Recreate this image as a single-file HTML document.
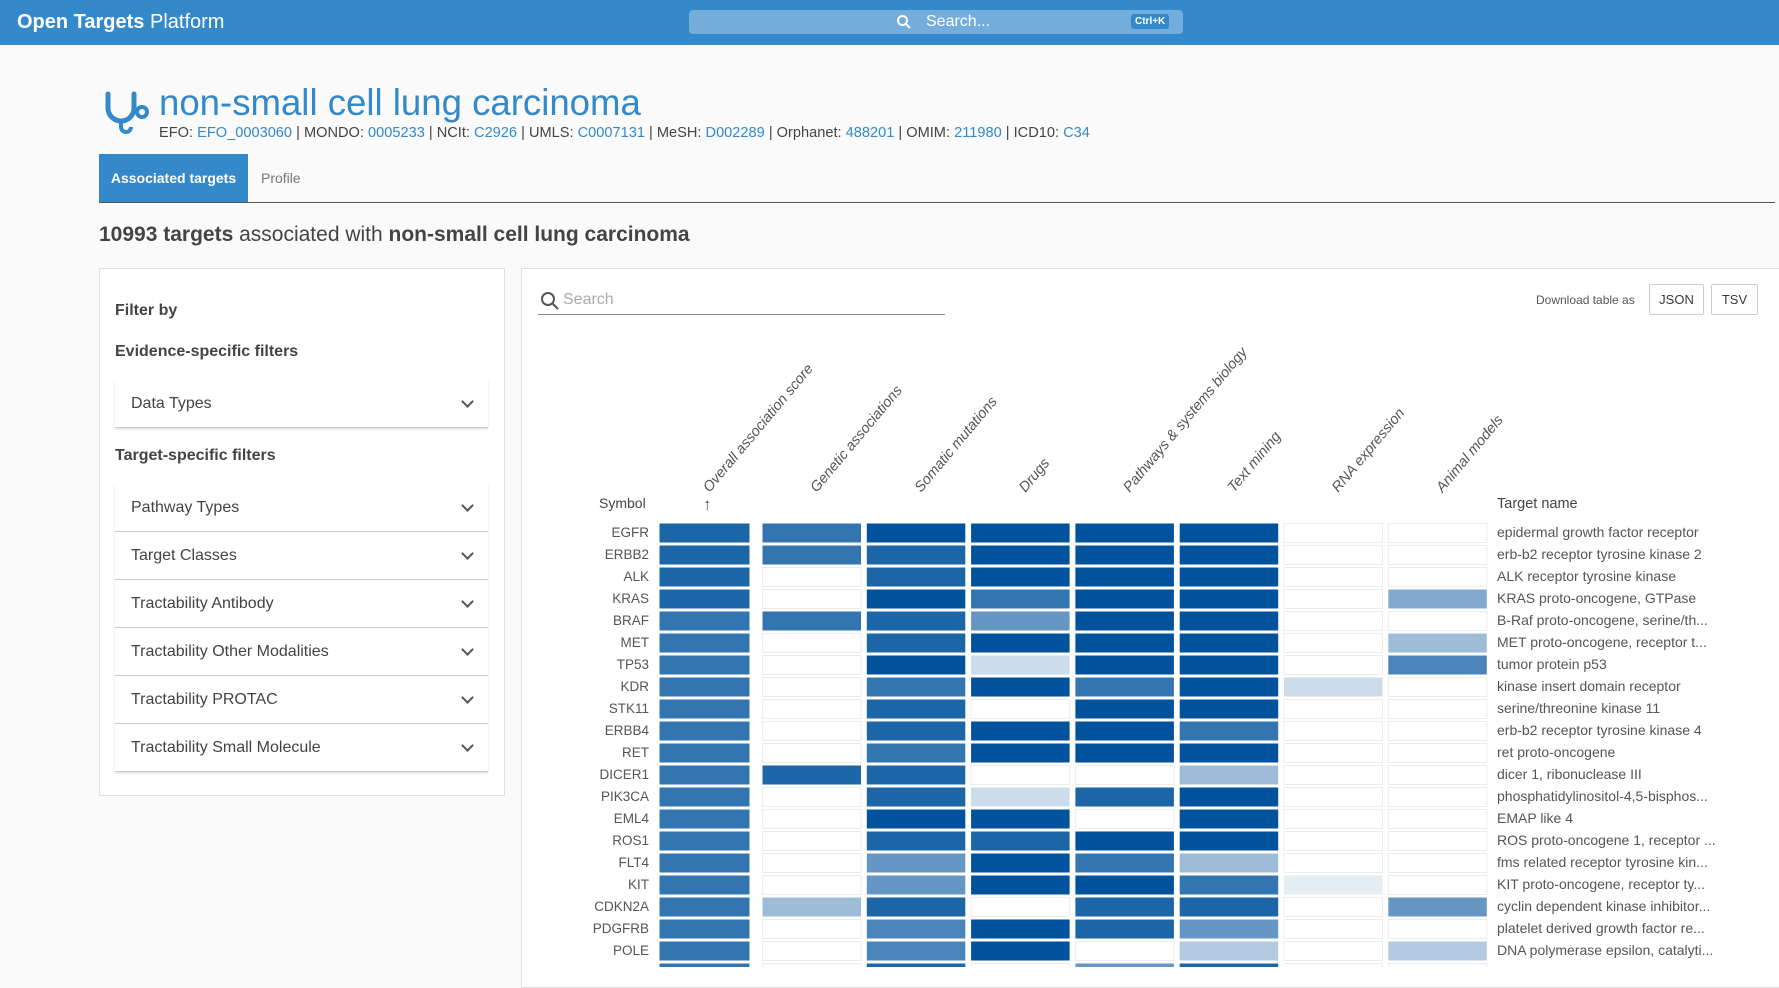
<!DOCTYPE html>
<html><head><meta charset="utf-8">
<style>
*{box-sizing:border-box;margin:0;padding:0}
body{width:1779px;height:967px;overflow:hidden;background:#fafafa;font-family:"Liberation Sans",sans-serif;color:#3a3a3a;position:relative}
.abs{position:absolute}
.hdr{left:0;top:0;width:1779px;height:45px;background:#3489ca}
.a{color:#3489ca}
.box{background:#fff;border:1px solid #e0e0e0}
.flt{left:115px;width:373px;height:48px;background:#fff;border-bottom:1px solid #ccc;box-shadow:0 1px 2px rgba(0,0,0,.15);font-size:16px;line-height:48px;padding-left:16px;color:#444}
.flt .chev{position:absolute;right:16px;top:17px;width:9px;height:9px;border-right:2px solid #555;border-bottom:2px solid #555;transform:rotate(45deg)}
</style></head><body>
<div class="abs hdr">
 <div class="abs" style="left:17px;top:11px;font-size:20px;color:#fff"><b>Open Targets</b> Platform</div>
 <div class="abs" style="left:689px;top:10px;width:494px;height:24px;background:#72addc;border-radius:4px">
  <svg class="abs" style="left:207px;top:4px" width="16" height="16"><circle cx="6.5" cy="6.5" r="4.5" stroke="#fff" stroke-width="2" fill="none"/><line x1="10" y1="10" x2="14" y2="14" stroke="#fff" stroke-width="2"/></svg>
  <div class="abs" style="left:237px;top:3px;font-size:16px;color:#fff">Search...</div>
  <div class="abs" style="left:442px;top:4px;font-size:10px;font-weight:bold;color:#fff;background:#3489ca;border-radius:3px;padding:2px 4px">Ctrl+K</div>
 </div>
</div>
<svg class="abs" style="left:104px;top:90px" width="46" height="46" viewBox="0 0 46 46"><path d="M4 4 V18 a13 13 0 0 0 26 0 V4" stroke="#3489ca" stroke-width="5" fill="none" stroke-linecap="round"/><circle cx="38" cy="22" r="5" stroke="#3489ca" stroke-width="4" fill="none"/><path d="M17 31 v6 a5 5 0 0 0 10 0" stroke="#3489ca" stroke-width="4" fill="none"/></svg>
<div class="abs a" style="left:159px;top:82px;font-size:36.6px">non-small cell lung carcinoma</div>
<div class="abs" style="left:159px;top:125px;font-size:14.6px;color:#444">EFO: <span class="a">EFO_0003060</span> | MONDO: <span class="a">0005233</span> | NCIt: <span class="a">C2926</span> | UMLS: <span class="a">C0007131</span> | MeSH: <span class="a">D002289</span> | Orphanet: <span class="a">488201</span> | OMIM: <span class="a">211980</span> | ICD10: <span class="a">C34</span></div>
<div class="abs" style="left:99px;top:154px;width:149px;height:48px;background:#3489ca;color:#fff;font-size:14px;font-weight:bold;line-height:48px;text-align:center">Associated targets</div>
<div class="abs" style="left:261px;top:154px;height:48px;line-height:48px;font-size:14px;color:#777">Profile</div>
<div class="abs" style="left:99px;top:202px;width:1676px;height:1px;background:#555"></div>
<div class="abs" style="left:99px;top:223px;font-size:21px;color:#444"><b>10993 targets</b> associated with <b>non-small cell lung carcinoma</b></div>

<div class="abs box" style="left:99px;top:268px;width:406px;height:528px"></div>
<div class="abs" style="left:115px;top:302px;font-size:16px;font-weight:bold;color:#444">Filter by</div>
<div class="abs" style="left:115px;top:343px;font-size:16px;font-weight:bold;color:#444">Evidence-specific filters</div>
<div class="abs flt" style="top:380px">Data Types<span class="chev"></span></div>
<div class="abs" style="left:115px;top:447px;font-size:16px;font-weight:bold;color:#444">Target-specific filters</div>
<div class="abs flt" style="top:484px">Pathway Types<span class="chev"></span></div>
<div class="abs flt" style="top:532px">Target Classes<span class="chev"></span></div>
<div class="abs flt" style="top:580px">Tractability Antibody<span class="chev"></span></div>
<div class="abs flt" style="top:628px">Tractability Other Modalities<span class="chev"></span></div>
<div class="abs flt" style="top:676px">Tractability PROTAC<span class="chev"></span></div>
<div class="abs flt" style="top:724px">Tractability Small Molecule<span class="chev"></span></div>

<div class="abs box" style="left:521px;top:268px;width:1270px;height:720px"></div>
<div class="abs" style="left:538px;top:288px;width:407px;height:27px;border-bottom:1px solid #888">
 <svg class="abs" style="left:2px;top:3px" width="20" height="20"><circle cx="8" cy="8" r="6" stroke="#555" stroke-width="2" fill="none"/><line x1="12.5" y1="12.5" x2="18" y2="18" stroke="#555" stroke-width="2"/></svg>
 <div class="abs" style="left:25px;top:3px;font-size:16px;color:#aaa">Search</div>
</div>
<div class="abs" style="left:1536px;top:293px;font-size:12px;color:#555">Download table as</div>
<div class="abs" style="left:1649px;top:284px;width:55px;height:31px;border:1px solid #ccc;background:#fff;font-size:13px;line-height:29px;text-align:center;border-radius:2px">JSON</div>
<div class="abs" style="left:1711px;top:284px;width:47px;height:31px;border:1px solid #ccc;background:#fff;font-size:13px;line-height:29px;text-align:center;border-radius:2px">TSV</div>

<svg id="hm" class="abs" style="left:0;top:0" width="1779" height="967"></svg>
<script>
const columns=["Overall association score","Genetic associations","Somatic mutations","Drugs","Pathways & systems biology","Text mining","RNA expression","Animal models"];
const symbols=["EGFR","ERBB2","ALK","KRAS","BRAF","MET","TP53","KDR","STK11","ERBB4","RET","DICER1","PIK3CA","EML4","ROS1","FLT4","KIT","CDKN2A","PDGFRB","POLE","NTRK1"];
const targetNames=["epidermal growth factor receptor","erb-b2 receptor tyrosine kinase 2","ALK receptor tyrosine kinase","KRAS proto-oncogene, GTPase","B-Raf proto-oncogene, serine/th...","MET proto-oncogene, receptor t...","tumor protein p53","kinase insert domain receptor","serine/threonine kinase 11","erb-b2 receptor tyrosine kinase 4","ret proto-oncogene","dicer 1, ribonuclease III","phosphatidylinositol-4,5-bisphos...","EMAP like 4","ROS proto-oncogene 1, receptor ...","fms related receptor tyrosine kin...","KIT proto-oncogene, receptor ty...","cyclin dependent kinase inhibitor...","platelet derived growth factor re...","DNA polymerase epsilon, catalyti...",""];
const scores=[
[.89,.8,1,1,1,1,0,0],
[.89,.8,.89,1,1,1,0,0],
[.89,0,.89,1,1,1,0,0],
[.89,0,1,.8,1,1,0,.49],
[.8,.8,.89,.6,1,1,0,0],
[.8,0,.89,1,1,1,0,.39],
[.8,0,1,.2,1,1,0,.71],
[.8,0,.8,1,.8,1,.2,0],
[.8,0,.89,0,1,1,0,0],
[.8,0,.89,1,1,.8,0,0],
[.8,0,.8,1,1,1,0,0],
[.8,.89,.89,0,0,.39,0,0],
[.8,0,.89,.2,.89,1,0,0],
[.8,0,1,1,0,1,0,0],
[.8,0,.89,.89,1,1,0,0],
[.8,0,.6,1,.8,.39,0,0],
[.8,0,.6,1,1,.8,.1,0],
[.8,.39,.89,0,.89,.89,0,.6],
[.8,0,.71,1,.89,.6,0,0],
[.8,0,.71,1,0,.3,0,.3],
[.8,0,.89,0,.6,.89,0,0]];
const NS="http://www.w3.org/2000/svg";
const svg=document.getElementById('hm');
function xCol(i){return i===0?659:762+(i-1)*104.3;}
function wCol(i){return i===0?91:99.5;}
function yRow(r){return 523+r*22;}
function color(v){const t=Math.max(0,Math.min(1,v));const c=[255-255*t,255-173*t,255-99*t].map(Math.round);return `rgb(${c})`;}
function mk(tag,attrs){const e=document.createElementNS(NS,tag);for(const k in attrs)e.setAttribute(k,attrs[k]);svg.appendChild(e);return e;}
columns.forEach((c,i)=>{
 const x=xCol(i)+wCol(i)/2+5, y=493;
 const t=mk('text',{x:x,y:y,transform:`rotate(-50 ${x} ${y})`,'font-size':'14.5','fill':'#555','font-style':'italic','font-family':'Liberation Sans, sans-serif'});
 t.textContent=c;
 
 
});
const sa=mk('text',{x:703,y:510,'font-size':'17',fill:'#555','font-family':'Liberation Sans, sans-serif'});sa.textContent='↑';


const sl=mk('text',{x:599,y:508,'font-size':'14',fill:'#444','font-family':'Liberation Sans, sans-serif'});sl.textContent='Symbol';


const tl=mk('text',{x:1497,y:508,'font-size':'14.5',fill:'#444','font-family':'Liberation Sans, sans-serif'});tl.textContent='Target name';


symbols.forEach((s,r)=>{
 const y=yRow(r);
 const st=mk('text',{x:649,y:y+14,'text-anchor':'end','font-size':'13.5',fill:'#555','font-family':'Liberation Sans, sans-serif'});st.textContent=s;
 
 
 const nt=mk('text',{x:1497,y:y+14,'font-size':'14',fill:'#555','font-family':'Liberation Sans, sans-serif'});nt.textContent=targetNames[r];
 
 
 scores[r].forEach((v,i)=>{
  const rc=mk('rect',{x:xCol(i)+0.5,y:y+0.5,width:wCol(i)-1,height:19,fill:v>0?color(v):'#fff',stroke:v>0?'none':'#ececec','stroke-width':1});
  
  
 });
});
</script>
</body></html>
